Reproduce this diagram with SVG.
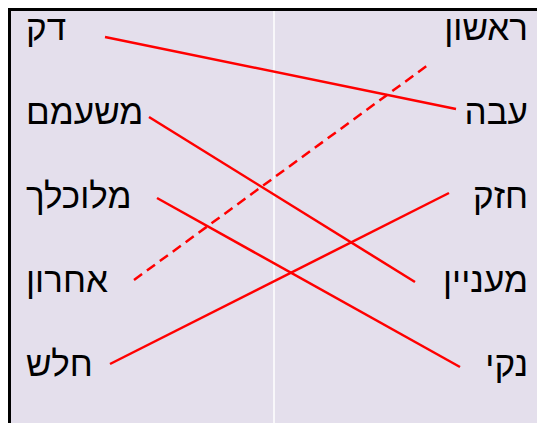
<svg xmlns="http://www.w3.org/2000/svg" width="537" height="423" viewBox="0 0 537 423">
<style>
.w{font-family:"Liberation Sans",Arial,sans-serif;font-size:35px;fill:#000}
.l{text-anchor:start}
.r{text-anchor:end}
.c{stroke:#ff0000;stroke-width:2.5;fill:none;stroke-linecap:butt}
.d{stroke-dasharray:10 6}
</style>
<rect x="0" y="0" width="537" height="423" fill="#ffffff"/>
<rect x="9.5" y="9.5" width="540" height="420" fill="#e4dfec" stroke="#000" stroke-width="3"/>
<line x1="274" y1="11" x2="274" y2="423" stroke="#ffffff" stroke-width="1.5"/>
<g id="connectors">
<line class="c" x1="105" y1="37" x2="456" y2="109"/>
<line class="c" x1="149" y1="117" x2="415" y2="282"/>
<line class="c" x1="157" y1="198" x2="460" y2="367"/>
<line class="c d" x1="134" y1="280" x2="428" y2="65"/>
<line class="c" x1="110" y1="364" x2="449" y2="193"/>
</g>
<g id="left-1"><text class="w l" x="26" y="40">דק</text></g>
<g id="left-2"><text class="w l" x="26" y="124">משעמם</text></g>
<g id="left-3"><text class="w l" x="26" y="208">מלוכלך</text></g>
<g id="left-4"><text class="w l" x="26" y="292">אחרון</text></g>
<g id="left-5"><text class="w l" x="26" y="376">חלש</text></g>
<g id="right-1"><text class="w r" x="528" y="40">ראשון</text></g>
<g id="right-2"><text class="w r" x="528" y="124">עבה</text></g>
<g id="right-3"><text class="w r" x="528" y="208">חזק</text></g>
<g id="right-4"><text class="w r" x="528" y="292">מעניין</text></g>
<g id="right-5"><text class="w r" x="528" y="376">נקי</text></g>
</svg>
